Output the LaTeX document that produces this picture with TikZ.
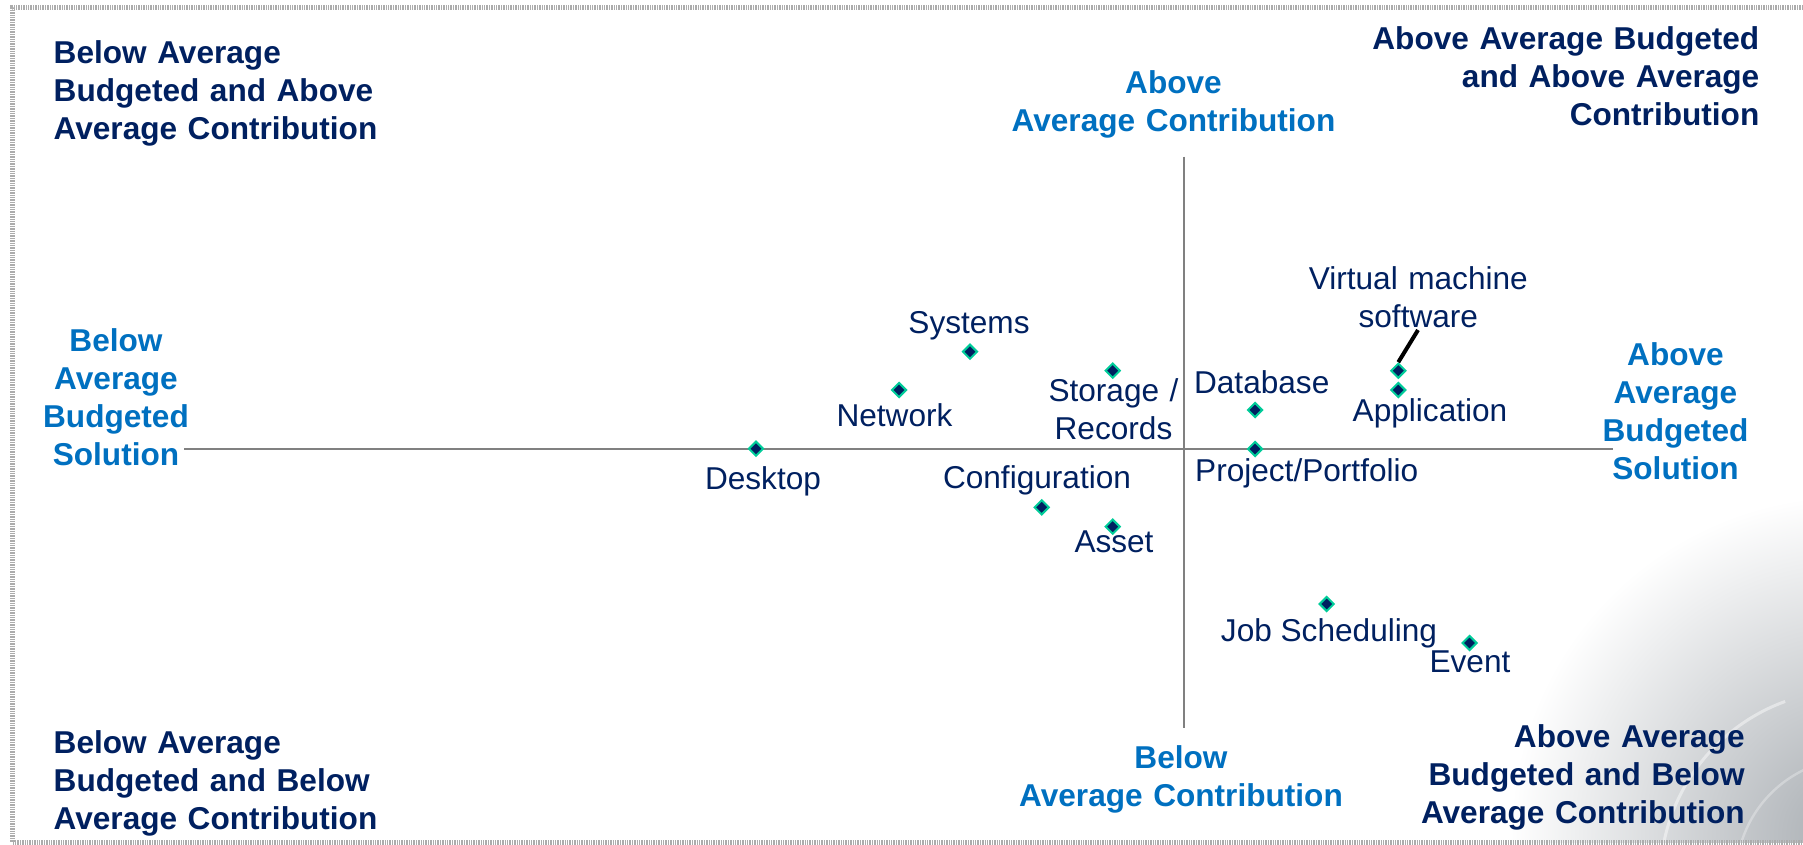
\documentclass[tikz,border=0pt]{standalone}
\usepackage{fontspec}
\setmainfont{Liberation Sans}
\usetikzlibrary{shapes.geometric}
\definecolor{navy}{RGB}{0,32,96}
\definecolor{axblue}{RGB}{0,112,192}
\definecolor{mint}{RGB}{0,204,153}
\definecolor{axgray}{RGB}{128,128,128}
\definecolor{shadegray}{RGB}{168,173,178}
\begin{document}
\begin{tikzpicture}[x=0.5pt,y=-0.5pt,
  lab/.style={text=navy, font=\fontsize{15.8}{19}\selectfont, inner sep=0pt, anchor=base},
  mlab/.style={lab, text width=120pt, align=center},
  quad/.style={text=navy, font=\bfseries\fontsize{15.8}{19}\selectfont, inner sep=0pt, text width=230pt},
  axlab/.style={text=axblue, font=\bfseries\fontsize{15.8}{19}\selectfont, inner sep=0pt, anchor=base, align=center, text width=200pt},
  pt/.style={diamond, draw=mint, fill=navy, line width=1pt, minimum width=7.5pt, minimum height=7.5pt, inner sep=0pt},
  axisline/.style={draw=axgray, line width=1pt},
  frame/.style={draw=gray!65, line width=2.5pt, dash pattern=on 0.7pt off 0.5pt},
  pointer/.style={draw=black, line width=2pt}]
\useasboundingbox (0,0) rectangle (1803,845);
% background shading, bottom right
\begin{scope}
\clip (12,8) rectangle (1803,842);
\shade[inner color=shadegray, outer color=white] (1850,835) circle (340);
\draw[white, opacity=0.45, line width=1.5pt] (1663,847) arc (190:250:190);
\draw[white, opacity=0.3, line width=1.2pt] (1740,847) arc (195:255:120);
\end{scope}
% frame
\draw[frame] (1803,8) -- (12,8) -- (12,842) -- (1803,842);
% axes
\coordinate (xl) at (184,449);
\coordinate (xr) at (1612.7,449);
\coordinate (yt) at (1183.5,156.7);
\coordinate (yb) at (1183.5,727.7);
\draw[axisline] (xl) -- (xr);
\draw[axisline] (yt) -- (yb);
% quadrant labels
\node[quad, anchor=base west, align=left] (qtl) at (53.3,63.5) {Below Average\\Budgeted and Above\\Average Contribution};
\node[quad, anchor=base east, align=right] (qtr) at (1759.7,49.5) {Above Average Budgeted\\and Above Average\\Contribution};
\node[quad, anchor=base west, align=left] (qbl) at (53.3,753) {Below Average\\Budgeted and Below\\Average Contribution};
\node[quad, anchor=base east, align=right] (qbr) at (1745,747.5) {Above Average\\Budgeted and Below\\Average Contribution};
% axis labels
\node[axlab] (atop) at (1173.5,93.5) {Above\\Average Contribution};
\node[axlab] (abot) at (1181,768) {Below\\Average Contribution};
\node[axlab] (aleft) at (116,351) {Below\\Average\\Budgeted\\Solution};
\node[axlab] (aright) at (1675.5,365) {Above\\Average\\Budgeted\\Solution};
% points
\node[pt] (psys) at (970,351.7) {};
\node[pt] (pnet) at (899,390) {};
\node[pt] (psto) at (1112.7,370.7) {};
\node[pt] (pdesk) at (756,448.7) {};
\node[pt] (pconf) at (1041.7,507.3) {};
\node[pt] (passet) at (1112.7,526.7) {};
\node[pt] (pdb) at (1255,410) {};
\node[pt] (pproj) at (1255,449) {};
\node[pt] (pvm) at (1398.3,370.7) {};
\node[pt] (papp) at (1398.3,390) {};
\node[pt] (pjob) at (1326.7,604) {};
\node[pt] (pevent) at (1469.5,643) {};
% point labels
\node[lab] (lsys) at (969,333.5) {Systems};
\node[lab] (lnet) at (894.5,426.5) {Network};
\node[mlab] (lsto) at (1113.5,401.5) {Storage /\\Records};
\node[lab] (ldesk) at (763,489) {Desktop};
\node[lab] (lconf) at (1037,488) {Configuration};
\node[lab] (lasset) at (1114,552.5) {Asset};
\node[lab] (ldb) at (1261.7,393) {Database};
\node[lab] (lproj) at (1306.7,481) {Project/Portfolio};
\node[mlab] (lvm) at (1418.3,289.5) {Virtual machine\\software};
\node[lab] (lapp) at (1430,421.5) {Application};
\node[lab] (ljob) at (1329,641) {Job Scheduling};
\node[lab] (levent) at (1470,672.5) {Event};
% pointer from VM point to its label
\coordinate (vmtip) at (1418,330);
\draw[pointer] (pvm.north) -- (vmtip);
\end{tikzpicture}
\end{document}
